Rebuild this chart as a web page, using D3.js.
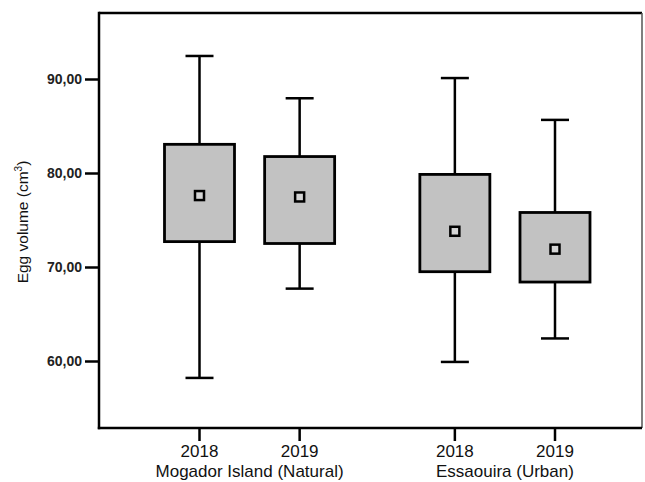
<!DOCTYPE html>
<html><head><meta charset="utf-8">
<script src="https://cdn.jsdelivr.net/npm/d3@7"></script>
<style>body{margin:0;background:#fff}svg{display:block}text{font-family:"Liberation Sans",Arial,sans-serif}</style>
</head><body><svg id="c" width="645" height="482"></svg>
<script>
const groups = ["Mogador Island (Natural)", "Essaouira (Urban)"];
const years = ["2018", "2019", "2018", "2019"];
const groupOf = [0, 0, 1, 1];
const whiskerLow = [58.2, 67.7, 59.9, 62.4];
const q1 = [72.7, 72.5, 69.5, 68.4];
const means = [77.6, 77.45, 73.8, 71.9];
const q3 = [83.05, 81.75, 79.85, 75.8];
const whiskerHigh = [92.45, 87.95, 90.1, 85.65];
const yTicks = [60, 70, 80, 90];

const svg = d3.select("#c");
const L = 99, R = 642, T = 13, B = 428;
const y = d3.scaleLinear().domain([60, 90]).range([361, 79]);
const slots = [0, 1, 2.55, 3.55];
const x = d3.scaleLinear().domain([0, 3.55]).range([199.5, 555]);

// frame
svg.append("line").attr("x1", L).attr("x2", R).attr("y1", T).attr("y2", T).attr("stroke", "#000").attr("stroke-width", 2.5);
svg.append("line").attr("x1", R).attr("x2", R).attr("y1", T).attr("y2", B).attr("stroke", "#555").attr("stroke-width", 1.5);

// y axis
const ya = svg.append("g").attr("transform", `translate(${L},0)`)
  .call(d3.axisLeft(y).tickValues(yTicks).tickSize(14).tickFormat(d => d3.format(".2f")(d).replace(".", ",")));
ya.select(".domain").remove();
svg.append("line").attr("x1", L).attr("x2", L).attr("y1", T - 1.2).attr("y2", B + 1.2).attr("stroke", "#000").attr("stroke-width", 2.5);
ya.selectAll(".tick line").attr("stroke", "#000").attr("stroke-width", 2.5);
ya.selectAll(".tick text").style("font-size", "14px").attr("fill", "#222").attr("font-weight", "bold").attr("x", -17);

// x axis
const xa = svg.append("g").attr("transform", `translate(0,${B})`);
svg.append("line").attr("x1", L - 1.2).attr("x2", R).attr("y1", B).attr("y2", B).attr("stroke", "#000").attr("stroke-width", 2.5);
years.forEach((yr, i) => {
  const cx = x(slots[i]);
  xa.append("line").attr("x1", cx).attr("x2", cx).attr("y1", 0).attr("y2", 13).attr("stroke", "#000").attr("stroke-width", 2.5);
  xa.append("text").attr("x", cx).attr("y", 29).attr("text-anchor", "middle").style("font-size", "17px").attr("fill", "#111").text(yr);
});
groups.forEach((g, gi) => {
  const idx = d3.range(4).filter(i => groupOf[i] === gi);
  const cx = d3.mean(idx, i => x(slots[i]));
  xa.append("text").attr("x", cx).attr("y", 49).attr("text-anchor", "middle").style("font-size", "17px").attr("fill", "#111").text(g);
});

// y label
const yl = svg.append("text").attr("transform", "translate(28,222) rotate(-90)").attr("text-anchor", "middle").style("font-size", "15.5px").attr("fill", "#111");
yl.append("tspan").text("Egg volume (cm");
yl.append("tspan").style("font-size", "10px").attr("dy", -6).text("3");
yl.append("tspan").attr("dy", 6).text(")");

// boxes
const bw = 70, cw = 28;
d3.range(4).forEach(i => {
  const cx = x(slots[i]);
  const g = svg.append("g");
  g.append("line").attr("x1", cx).attr("x2", cx).attr("y1", y(whiskerHigh[i])).attr("y2", y(q3[i])).attr("stroke", "#000").attr("stroke-width", 2.5);
  g.append("line").attr("x1", cx).attr("x2", cx).attr("y1", y(q1[i])).attr("y2", y(whiskerLow[i])).attr("stroke", "#000").attr("stroke-width", 2.5);
  [whiskerHigh[i], whiskerLow[i]].forEach(v => {
    g.append("line").attr("x1", cx - cw / 2).attr("x2", cx + cw / 2).attr("y1", y(v)).attr("y2", y(v)).attr("stroke", "#000").attr("stroke-width", 2.5);
  });
  g.append("rect").attr("x", cx - bw / 2).attr("y", y(q3[i])).attr("width", bw).attr("height", y(q1[i]) - y(q3[i]))
    .attr("fill", "#c2c2c2").attr("stroke", "#000").attr("stroke-width", 2.8);
  g.append("rect").attr("x", cx - 4.5).attr("y", y(means[i]) - 4.5).attr("width", 9).attr("height", 9)
    .attr("fill", "#d4d4d4").attr("stroke", "#000").attr("stroke-width", 2.5);
});
</script></body></html>
